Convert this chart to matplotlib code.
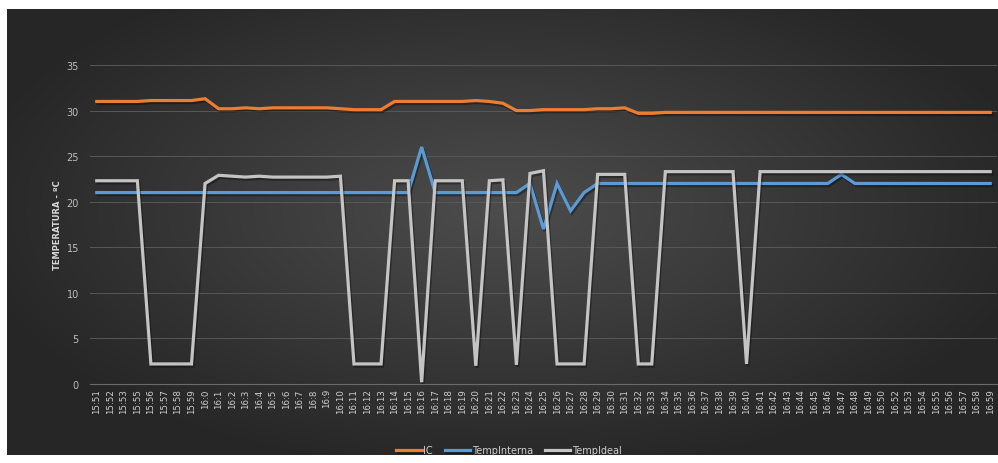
import numpy as np
import matplotlib
matplotlib.use('Agg')
from matplotlib import pyplot as plt
import matplotlib.patheffects as pe

# category labels (minute readings, as they appear on the chart)
times = ['15:51', '15:52', '15:53', '15:55', '15:56', '15:57', '15:58', '15:59'] \
    + ['16:%d' % m for m in range(0, 51)] \
    + ['16:%d' % m for m in range(52, 60)]

ic = [31.0, 31.0, 31.0, 31.0, 31.1, 31.1, 31.1, 31.1, 31.3, 30.2,
      30.2, 30.3, 30.2, 30.3, 30.3, 30.3, 30.3, 30.3, 30.2, 30.1,
      30.1, 30.1, 31.0, 31.0, 31.0, 31.0, 31.0, 31.0, 31.1, 31.0,
      30.8, 30.0, 30.0, 30.1, 30.1, 30.1, 30.1, 30.2, 30.2, 30.3,
      29.7, 29.7, 29.8, 29.8, 29.8, 29.8, 29.8, 29.8, 29.8, 29.8,
      29.8, 29.8, 29.8, 29.8, 29.8, 29.8, 29.8, 29.8, 29.8, 29.8,
      29.8, 29.8, 29.8, 29.8, 29.8, 29.8, 29.8]

temp_interna = [21, 21, 21, 21, 21, 21, 21, 21, 21, 21,
                21, 21, 21, 21, 21, 21, 21, 21, 21, 21,
                21, 21, 21, 21, 26, 21, 21, 21, 21, 21,
                21, 21, 22, 17, 22, 19, 21, 22, 22, 22,
                22, 22, 22, 22, 22, 22, 22, 22, 22, 22,
                22, 22, 22, 22, 22, 23, 22, 22, 22, 22,
                22, 22, 22, 22, 22, 22, 22]

temp_ideal = [22.3, 22.3, 22.3, 22.3, 2.2, 2.2, 2.2, 2.2, 22.0, 22.9,
              22.8, 22.7, 22.8, 22.7, 22.7, 22.7, 22.7, 22.7, 22.8, 2.2,
              2.2, 2.2, 22.3, 22.3, 0.2, 22.3, 22.3, 22.3, 2.0, 22.3,
              22.4, 2.1, 23.1, 23.4, 2.2, 2.2, 2.2, 23.0, 23.0, 23.0,
              2.2, 2.2, 23.3, 23.3, 23.3, 23.3, 23.3, 23.3, 2.2, 23.3,
              23.3, 23.3, 23.3, 23.3, 23.3, 23.3, 23.3, 23.3, 23.3, 23.3,
              23.3, 23.3, 23.3, 23.3, 23.3, 23.3, 23.3]

series = [('IC', ic, '#ED7D31'),
          ('TempInterna', temp_interna, '#5B9BD5'),
          ('TempIdeal', temp_ideal, '#C4C4C4')]

fig = plt.figure(figsize=(9.98, 4.64), dpi=100)
fig.patch.set_facecolor('white')

# dark radial gradient background
bg = fig.add_axes([7 / 998, 8 / 464, 991 / 998, 446 / 464])
gx, gy = np.meshgrid(np.linspace(-1, 1, 400), np.linspace(-1, 1, 200))
r = np.sqrt((gx / 1.1) ** 2 + ((gy + 0.1) / 1.2) ** 2)
shade = np.clip(0.30 - 0.15 * r, 0.15, 0.30)
bg.imshow(np.dstack([shade] * 3), aspect='auto', extent=[0, 1, 0, 1])
bg.axis('off')

ax = fig.add_axes([90 / 998, 79 / 464, 907 / 998, 319 / 464])
ax.patch.set_alpha(0)
x = np.arange(len(times))
for name, vals, col in series:
    ax.plot(x, vals, color=col, lw=2.3, label=name, solid_joinstyle='miter',
            path_effects=[pe.SimpleLineShadow(offset=(1, -1.5), alpha=0.35),
                          pe.Normal()])

ax.set_xlim(-0.5, len(times) - 0.5)
ax.set_ylim(0, 35)
ax.set_yticks(range(0, 36, 5))
ax.set_xticks(x)
ax.set_xticklabels(times, rotation=90, fontsize=6.2, color='#d0d0d0')
ax.tick_params(axis='y', labelsize=7, colors='#bfbfbf', length=0, pad=8)
ax.tick_params(axis='x', length=0, pad=3)
ax.grid(axis='y', color='#585858', lw=0.7)
ax.set_axisbelow(True)
for s in ['top', 'right', 'left']:
    ax.spines[s].set_visible(False)
ax.spines['bottom'].set_color('#6a6a6a')
ax.set_ylabel('TEMPERATURA - ºC', fontsize=6, fontweight='bold', color='#d9d9d9', labelpad=3)

fig.legend(loc='center', bbox_to_anchor=(0.51, 0.027), ncol=3, frameon=False,
           fontsize=7, labelcolor='#d0d0d0', handlelength=2.6, handletextpad=0.2,
           columnspacing=1.2)

plt.savefig('out.png', dpi=100)
